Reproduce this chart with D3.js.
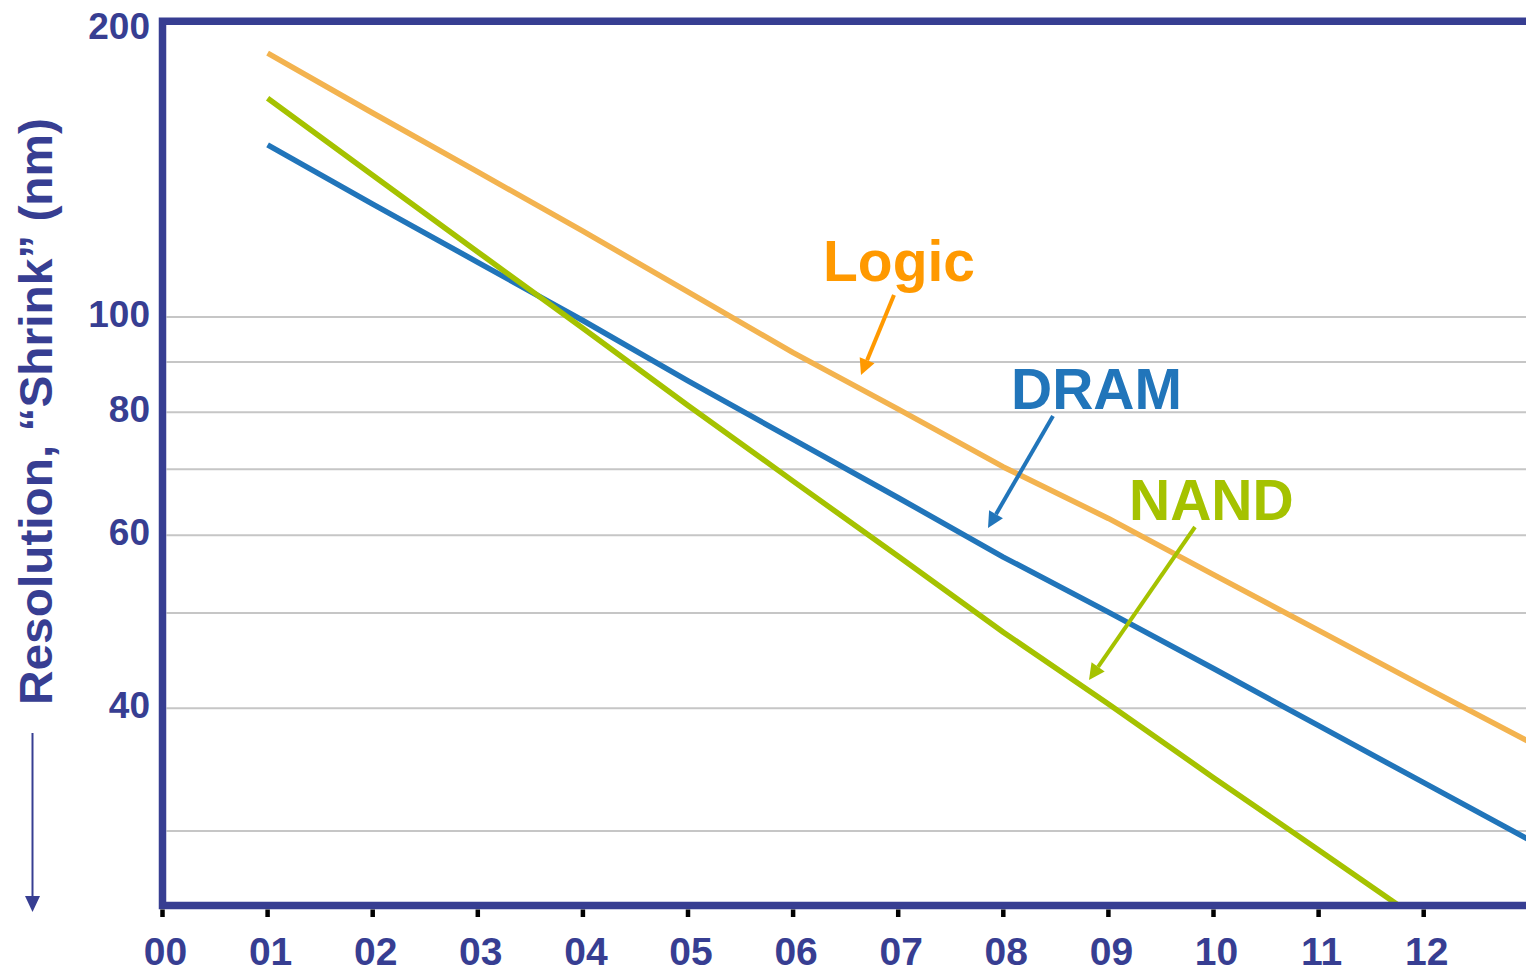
<!DOCTYPE html>
<html>
<head>
<meta charset="utf-8">
<script src="https://cdn.jsdelivr.net/npm/d3@7"></script>
<style>
  html, body { margin: 0; padding: 0; background: #fff; }
  svg { display: block; }
  text { font-family: "Liberation Sans", Arial, sans-serif; font-weight: bold; }
</style>
</head>
<body>
<svg id="chart" width="1526" height="972"></svg>
<script>
// Years (20xx) at which each roadmap is sampled
const years = [1, 2, 3, 4, 5, 6, 7, 8, 9, 10, 11, 12, 13];
// Resolution ("shrink") in nm
const logicNm = [185.6, 161.3, 140.5, 122.3, 106.1, 92.0, 80.6, 70.4, 62.4, 54.7, 48.0, 42.1, 37.0];
const dramNm  = [149.7, 130.3, 113.7, 99.2, 86.1, 75.1, 65.5, 57.0, 50.1, 43.9, 38.4, 33.6, 29.4];
const nandNm  = [167.0, 139.4, 116.5, 97.4, 81.3, 68.1, 57.1, 47.8, 40.4, 34.0, 28.7, 24.2];

const xTicks = [0, 1, 2, 3, 4, 5, 6, 7, 8, 9, 10, 11, 12];
const xTickLabels = ["00", "01", "02", "03", "04", "05", "06", "07", "08", "09", "10", "11", "12"];
const yLabelTicks = [200, 100, 80, 60, 40];
const yGridTicks = [100, 90, 80, 70, 60, 50, 40, 30];

const series = [
  { name: "Logic", values: logicNm, color: "#F3B34F", labelColor: "#FF9900" },
  { name: "DRAM",  values: dramNm,  color: "#2175BA", labelColor: "#2175BA" },
  { name: "NAND",  values: nandNm,  color: "#A5C200", labelColor: "#A5C200" }
];

const NAVY = "#373E92";
const svg = d3.select("#chart");

const plotLeft = 162.5, plotTop = 21.2, plotBottom = 905.5, plotRight = 1526;
const x = d3.scaleLinear().domain([0, 13]).range([plotLeft, plotLeft + 13 * 105.1]);
const y = d3.scaleLog().domain([25.2, 200]).range([plotBottom, plotTop]);

// clip region for the data lines
svg.append("defs").append("clipPath").attr("id", "plot")
  .append("rect").attr("x", plotLeft).attr("y", plotTop)
  .attr("width", plotRight - plotLeft).attr("height", plotBottom - plotTop);

// horizontal grid
svg.append("g").selectAll("line").data(yGridTicks).join("line")
  .attr("x1", plotLeft + 4).attr("x2", plotRight)
  .attr("y1", d => y(d)).attr("y2", d => y(d))
  .attr("stroke", "#C6C6C6").attr("stroke-width", 2);

// data lines
const line = d3.line().x((d, i) => x(years[i])).y(d => y(d));
svg.append("g").attr("clip-path", "url(#plot)")
  .selectAll("path").data(series).join("path")
  .attr("d", s => line(s.values))
  .attr("fill", "none")
  .attr("stroke", s => s.color)
  .attr("stroke-width", 5.5)
  .attr("stroke-linejoin", "round");

// frame: left, top and bottom edges
svg.append("path")
  .attr("d", `M${plotRight},${plotTop} L${plotLeft},${plotTop} L${plotLeft},${plotBottom} L${plotRight},${plotBottom}`)
  .attr("fill", "none").attr("stroke", NAVY).attr("stroke-width", 7.5)
  .attr("stroke-linejoin", "miter");

// x tick marks and labels
svg.append("g").selectAll("line").data(xTicks).join("line")
  .attr("x1", d => x(d)).attr("x2", d => x(d))
  .attr("y1", 909.5).attr("y2", 917)
  .attr("stroke", "#000").attr("stroke-width", 4.5);

svg.append("g").selectAll("text").data(xTicks).join("text")
  .attr("x", d => x(d) + 3).attr("y", 965)
  .attr("text-anchor", "middle")
  .attr("fill", NAVY)
  .style("font-family", '"Liberation Sans Narrow", "Liberation Sans", Arial, sans-serif')
  .style("font-size", "39px")
  .text((d, i) => xTickLabels[i]);

// y tick labels (the top one sits just inside the page)
svg.append("g").selectAll("text").data(yLabelTicks).join("text")
  .attr("x", 150).attr("y", d => Math.max(y(d) - 3, 26))
  .attr("dy", "0.35em")
  .attr("text-anchor", "end")
  .attr("fill", NAVY)
  .style("font-size", "37px")
  .text(d => d);

// y axis title with downward arrow
svg.append("text")
  .attr("transform", "translate(52,411.5) rotate(-90)")
  .attr("text-anchor", "middle")
  .attr("fill", NAVY)
  .style("font-size", "47px")
  .attr("textLength", 587).attr("lengthAdjust", "spacingAndGlyphs")
  .text("Resolution, \u201CShrink\u201D (nm)");

svg.append("line").attr("x1", 32.5).attr("x2", 32.5).attr("y1", 733).attr("y2", 898)
  .attr("stroke", NAVY).attr("stroke-width", 2);
svg.append("path").attr("d", "M25,896 L40,896 L32.5,912 Z").attr("fill", NAVY);

// series labels with pointer arrows
const annotations = [
  { name: "Logic", tx: 823, ty: 281, from: [894, 295], to: [861, 375] },
  { name: "DRAM",  tx: 1011, ty: 409, from: [1053, 416], to: [988, 528] },
  { name: "NAND",  tx: 1129, ty: 520, from: [1195, 527], to: [1089, 680] }
];

function arrow(g, from, to, color) {
  const dx = to[0] - from[0], dy = to[1] - from[1];
  const len = Math.hypot(dx, dy), ux = dx / len, uy = dy / len;
  const headLen = 16, headW = 8;
  const bx = to[0] - ux * headLen, by = to[1] - uy * headLen;
  g.append("line").attr("x1", from[0]).attr("y1", from[1]).attr("x2", bx).attr("y2", by)
    .attr("stroke", color).attr("stroke-width", 4);
  g.append("path")
    .attr("d", `M${to[0]},${to[1]} L${bx - uy * headW},${by + ux * headW} L${bx + uy * headW},${by - ux * headW} Z`)
    .attr("fill", color);
}

const ann = svg.append("g");
annotations.forEach(a => {
  const s = series.find(d => d.name === a.name);
  ann.append("text").attr("x", a.tx).attr("y", a.ty)
    .attr("fill", s.labelColor).style("font-size", "57px").text(a.name);
  arrow(ann, a.from, a.to, s.labelColor);
});
</script>
</body>
</html>
